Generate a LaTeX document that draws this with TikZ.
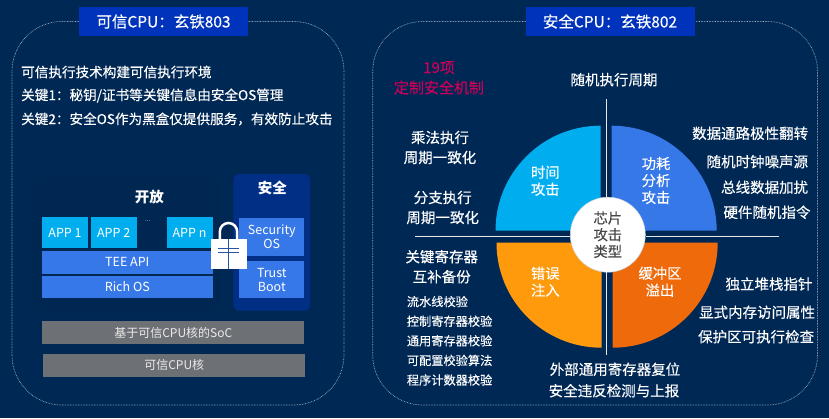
\documentclass[tikz,border=0pt]{standalone}
\usepackage{fontspec}
\setmainfont{Noto Sans CJK SC}
\newfontfamily\cjkmed{Noto Sans CJK SC}[FakeBold=0.25]
\usetikzlibrary{positioning}
\definecolor{bgnavy}{HTML}{002855}
\definecolor{openwell}{HTML}{002752}
\definecolor{titleblue}{HTML}{0033BB}
\definecolor{appcyan}{HTML}{00AEEF}
\definecolor{layerblue}{HTML}{3778E8}
\definecolor{safeblue}{HTML}{002F85}
\definecolor{coregray}{HTML}{6D7074}
\definecolor{faultorange}{HTML}{FF9A0D}
\definecolor{bufferorange}{HTML}{EE6A0A}
\definecolor{crimson}{HTML}{CC0058}
\tikzset{
    x=1pt, y=-1pt,
    titlebox/.style={fill=titleblue, text=white, minimum width=169pt, minimum height=29pt, font=\cjkmed\fontsize{15.5}{16}\selectfont, inner sep=0pt},
    framebox/.style={draw=white!62!bgnavy, line width=0.7pt, dash pattern=on 0.7pt off 0.9pt, rounded corners=50pt},
    labeltext/.style={text=white, font=\cjkmed\fontsize{14.5}{20}\selectfont, inner sep=0pt, align=center},
    smalltext/.style={text=white, font=\cjkmed\fontsize{12.2}{19.6}\selectfont, inner sep=0pt, align=left},
    linetext/.style={text=white, font=\cjkmed\fontsize{13.6}{14}\selectfont, inner sep=0pt, anchor=west},
    worldtext/.style={text=white, font=\fontsize{14.5}{15}\selectfont\bfseries, inner sep=0pt},
    appbox/.style={fill=appcyan, text=white, minimum width=46pt, minimum height=30.5pt, font=\fontsize{12.5}{14}\selectfont, inner sep=0pt},
    layerbox/.style={fill=layerblue, text=white, font=\fontsize{12.5}{14}\selectfont, inner sep=0pt, align=center},
    corebox/.style={fill=coregray, text=white!92!black, minimum width=262pt, minimum height=22.7pt, font=\fontsize{12}{13}\selectfont, inner sep=0pt},
    axisline/.style={draw=white!90!bgnavy, line width=1pt},
    sectortext/.style={text=white, font=\cjkmed\fontsize{14.3}{17}\selectfont, inner sep=0pt, align=center}
}
\begin{document}
\begin{tikzpicture}
\useasboundingbox (0,0) rectangle (829,418);
\fill[bgnavy] (0,0) rectangle (829,418);

% left frame
\coordinate (leftgapa) at (79,21.5);
\coordinate (leftgapb) at (248,21.5);
\draw[framebox] (leftgapa) -- (12,21.5) -- (12,405) -- (344,405) -- (344,21.5) -- (leftgapb);
\node[titlebox] (lefttitle) at (163.5,21.5) {可信CPU：玄铁803};
\node[linetext] (leftone) at (21,72) {可信执行技术构建可信执行环境};
\node[linetext] (lefttwo) at (21,95.5) {关键1：秘钥/证书等关键信息由安全OS管理};
\node[linetext] (leftthree) at (21,119) {关键2：安全OS作为黑盒仅提供服务，有效防止攻击};

% open and secure worlds
\fill[openwell, rounded corners=8pt] (32,176) rectangle (220,312);
\fill[safeblue, rounded corners=6pt] (233.3,174) rectangle (310,310.7);
\node[worldtext] (open) at (149.3,197.3) {开放};
\node[worldtext] (secure) at (272.3,188.3) {安全};
\node[appbox] (appa) at (65,232.5) {APP 1};
\node[appbox] (appb) at (113.7,232.5) {\raisebox{-1pt}{APP 2}};
\node[text=white, font=\fontsize{6}{6}\selectfont, inner sep=0pt] (dots) at (147.7,221.5) {...};
\node[appbox] (appn) at (189.5,232.5) {APP n};
\node[layerbox, minimum width=170.7pt, minimum height=23pt] (tee) at (127.3,262.2) {TEE API};
\node[layerbox, minimum width=170.7pt, minimum height=22.7pt] (rich) at (127.3,287) {Rich OS};
\node[layerbox, minimum width=65pt, minimum height=37.4pt] (secos) at (271.8,237) {Security\\OS};
\node[layerbox, minimum width=65pt, minimum height=37.6pt] (boot) at (271.8,279.5) {Trust\\Boot};
\node[corebox] (soc) at (173.3,332.7) {基于可信CPU核的SoC};
\node[corebox] (core) at (174.2,365.3) {可信CPU核};

% lock
\draw[white, line width=2.5pt] (219.8,240) -- (219.8,231.7) arc[start angle=180, end angle=0, radius=8.7pt] -- (237.2,240);
\node[fill=white, minimum width=35.7pt, minimum height=30pt, inner sep=0pt] (lockbody) at (228.8,253.7) {};
\draw[layerblue!70!black, line width=0.7pt] (218,248) -- (239.3,248) (218,252) -- (239.3,252) (lockbody.north) -- (lockbody.south);

% right frame
\coordinate (rightgapa) at (526,21.5);
\coordinate (rightgapb) at (694,21.5);
\draw[framebox] (rightgapa) -- (372.7,21.5) -- (372.7,405) -- (817.5,405) -- (817.5,21.5) -- (rightgapb);
\node[titlebox] (righttitle) at (610,21.5) {安全CPU：玄铁802};
\node[labeltext, text=crimson, font=\cjkmed\fontsize{15}{20.3}\selectfont] (count) at (439,77.8) {19项\\定制安全机制};

% quadrants
\fill[appcyan] (600.5,125.7) arc[start angle=90, end angle=180, radius=105pt] -- (600.5,230.7) -- cycle;
\fill[layerblue] (611.7,125.7) arc[start angle=90, end angle=0, radius=105pt] -- (611.7,230.7) -- cycle;
\fill[faultorange] (496.5,242.7) arc[start angle=180, end angle=270, radius=105pt] -- (601.5,242.7) -- cycle;
\fill[bufferorange] (717.7,242.7) arc[start angle=0, end angle=-90, radius=105pt] -- (612.7,242.7) -- cycle;

% cross lines
\coordinate (crossn) at (606.7,99.3);
\coordinate (crosss) at (606.7,355);
\coordinate (crossw) at (415,236);
\coordinate (crosse) at (779.3,236);
\node[circle, fill=white, draw=white!80!bgnavy, line width=0.5pt, minimum size=75pt, inner sep=0pt, text=black!72, font=\cjkmed\fontsize{14.3}{16.7}\selectfont, align=center] (chip) at (607.8,234.7) {芯片\\攻击\\类型};
\draw[axisline] (crossn) -- (crossn |- chip.north);
\draw[axisline] (crosss) -- (crosss |- chip.south);
\draw[axisline] (crossw) -- (crossw -| chip.west);
\draw[axisline] (crosse) -- (crosse -| chip.east);

\node[sectortext] (timing) at (545.3,180.8) {时间\\攻击};
\node[sectortext] (power) at (656,180.5) {功耗\\分析\\攻击};
\node[sectortext] (fault) at (545.3,281.7) {错误\\注入};
\node[sectortext] (buffer) at (660,281.7) {缓冲区\\溢出};

% labels
\node[labeltext] (randcycle) at (614,79.7) {随机执行周期};
\node[labeltext] (mul) at (440,147.5) {乘法执行\\周期一致化};
\node[labeltext] (branch) at (442.7,207.5) {分支执行\\周期一致化};
\node[labeltext] (regs) at (441.7,266.7) {关键寄存器\\互补备份};
\node[smalltext, anchor=west] (checks) at (406.7,340.8) {流水线校验\\控制寄存器校验\\通用寄存器校验\\可配置校验算法\\程序计数器校验};
\node[labeltext, anchor=east] (flip) at (808.3,133.3) {数据通路极性翻转};
\node[labeltext, anchor=east] (noise) at (808.3,161.7) {随机时钟噪声源};
\node[labeltext, anchor=east] (scramble) at (808.3,187.3) {总线数据加扰};
\node[labeltext, anchor=east] (hwrand) at (810.7,212.3) {硬件随机指令};
\node[labeltext, anchor=east] (stack) at (812.7,284) {独立堆栈指针};
\node[labeltext, anchor=east] (memattr) at (815.3,312.3) {显式内存访问属性};
\node[labeltext, anchor=east] (guard) at (814.3,336.7) {保护区可执行检查};
\node[labeltext] (extreg) at (615,369.3) {外部通用寄存器复位};
\node[labeltext] (violate) at (614,390.7) {安全违反检测与上报};
\end{tikzpicture}
\end{document}
